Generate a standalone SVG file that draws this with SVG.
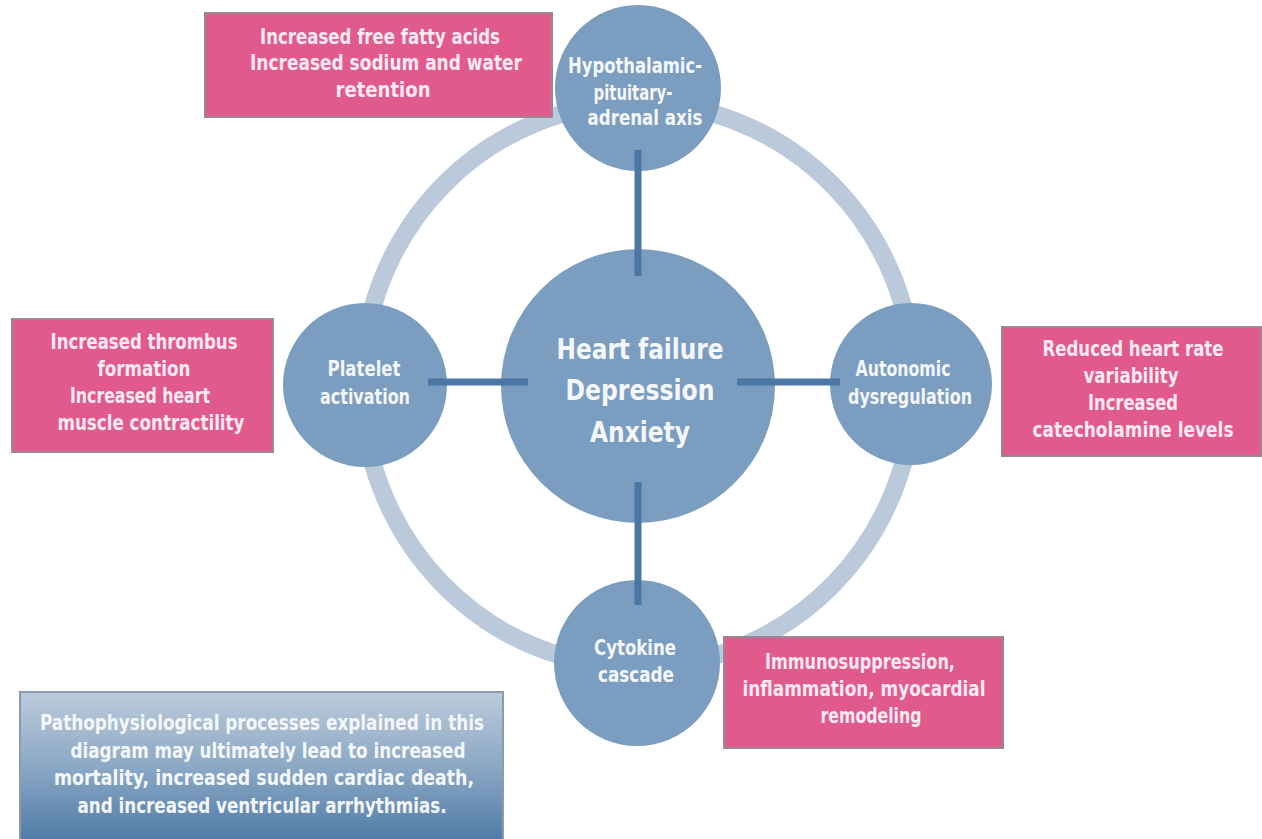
<svg xmlns="http://www.w3.org/2000/svg" width="1262" height="839" viewBox="0 0 1262 839">
<defs>
<linearGradient id="gradNote" x1="0" y1="0" x2="0" y2="1">
<stop offset="0" stop-color="#bccbdb"/>
<stop offset="0.5" stop-color="#8ba8c5"/>
<stop offset="1" stop-color="#4f7aa6"/>
</linearGradient>
<style>
.ring{fill:none;stroke:#bacadb;stroke-width:18}
.conn{stroke:#4a77a3;stroke-width:7;fill:none}
.pink{fill:#e05a8c;stroke:#9b8794;stroke-width:2}
.node{fill:#7b9dc0}
text{font-family:"Liberation Sans Narrow","DejaVu Sans Condensed","DejaVu Sans",sans-serif;font-weight:bold;text-anchor:middle}
.pt{fill:#fde9f1;font-size:21px}
.ct{fill:#f4f7fb;font-size:21px}
.big{fill:#f4f7fb;font-size:29px}
.nt{fill:#f4f7fb;font-size:21px}
</style>
</defs>
<rect width="1262" height="839" fill="#ffffff"/>
<ellipse class="ring" cx="638" cy="385" rx="276" ry="282"/>
<g id="box-hpa">
<rect class="pink" x="205" y="13" width="347" height="104"/>
<text class="pt" x="380" y="44" textLength="240" lengthAdjust="spacingAndGlyphs">Increased free fatty acids</text>
<text class="pt" x="386" y="70" textLength="272" lengthAdjust="spacingAndGlyphs">Increased sodium and water</text>
<text class="pt" x="383" y="97" textLength="95" lengthAdjust="spacingAndGlyphs">retention</text>
</g>
<g id="box-platelet">
<rect class="pink" x="12" y="319" width="261" height="133"/>
<text class="pt" x="144" y="349" textLength="187" lengthAdjust="spacingAndGlyphs">Increased thrombus</text>
<text class="pt" x="144" y="376" textLength="93" lengthAdjust="spacingAndGlyphs">formation</text>
<text class="pt" x="140" y="403" textLength="140" lengthAdjust="spacingAndGlyphs">Increased heart</text>
<text class="pt" x="151" y="430" textLength="187" lengthAdjust="spacingAndGlyphs">muscle contractility</text>
</g>
<g id="box-autonomic">
<rect class="pink" x="1002" y="327" width="259" height="129"/>
<text class="pt" x="1133" y="356" textLength="181" lengthAdjust="spacingAndGlyphs">Reduced heart rate</text>
<text class="pt" x="1131" y="383" textLength="95" lengthAdjust="spacingAndGlyphs">variability</text>
<text class="pt" x="1133" y="410" textLength="90" lengthAdjust="spacingAndGlyphs">Increased</text>
<text class="pt" x="1133" y="437" textLength="201" lengthAdjust="spacingAndGlyphs">catecholamine levels</text>
</g>
<g id="box-cytokine">
<rect class="pink" x="724" y="637" width="279" height="111"/>
<text class="pt" x="860" y="669" textLength="190" lengthAdjust="spacingAndGlyphs">Immunosuppression,</text>
<text class="pt" x="864" y="696" textLength="243" lengthAdjust="spacingAndGlyphs">inflammation, myocardial</text>
<text class="pt" x="871" y="723" textLength="101" lengthAdjust="spacingAndGlyphs">remodeling</text>
</g>
<g id="node-center">
<circle class="node" cx="638" cy="386" r="137"/>
<text class="big" x="640" y="359" textLength="167" lengthAdjust="spacingAndGlyphs">Heart failure</text>
<text class="big" x="640" y="400" textLength="149" lengthAdjust="spacingAndGlyphs">Depression</text>
<text class="big" x="640" y="442" textLength="100" lengthAdjust="spacingAndGlyphs">Anxiety</text>
</g>
<g id="node-hpa">
<circle class="node" cx="638" cy="88" r="83"/>
<text class="ct" x="635" y="73" textLength="134" lengthAdjust="spacingAndGlyphs">Hypothalamic-</text>
<text class="ct" x="633" y="100" textLength="79" lengthAdjust="spacingAndGlyphs">pituitary-</text>
<text class="ct" x="645" y="125" textLength="115" lengthAdjust="spacingAndGlyphs">adrenal axis</text>
</g>
<g id="node-platelet">
<circle class="node" cx="365" cy="385" r="82"/>
<text class="ct" x="364" y="376" textLength="73" lengthAdjust="spacingAndGlyphs">Platelet</text>
<text class="ct" x="365" y="404" textLength="90" lengthAdjust="spacingAndGlyphs">activation</text>
</g>
<g id="node-autonomic">
<circle class="node" cx="911" cy="384" r="81"/>
<text class="ct" x="903" y="376" textLength="95" lengthAdjust="spacingAndGlyphs">Autonomic</text>
<text class="ct" x="910" y="404" textLength="124" lengthAdjust="spacingAndGlyphs">dysregulation</text>
</g>
<g id="node-cytokine">
<circle class="node" cx="637" cy="663" r="83"/>
<text class="ct" x="635" y="655" textLength="82" lengthAdjust="spacingAndGlyphs">Cytokine</text>
<text class="ct" x="636" y="682" textLength="76" lengthAdjust="spacingAndGlyphs">cascade</text>
</g>
<g id="connectors">
<line class="conn" x1="638" y1="150" x2="638" y2="276"/>
<line class="conn" x1="428" y1="382" x2="528" y2="382"/>
<line class="conn" x1="737" y1="382" x2="840" y2="382"/>
<line class="conn" x1="638" y1="482" x2="638" y2="605"/>
</g>
<g id="note">
<rect x="20" y="692" width="483" height="150" fill="url(#gradNote)" stroke="#8a9bb0" stroke-width="2"/>
<text class="nt" x="262" y="730" textLength="444" lengthAdjust="spacingAndGlyphs">Pathophysiological processes explained in this</text>
<text class="nt" x="268" y="758" textLength="395" lengthAdjust="spacingAndGlyphs">diagram may ultimately lead to increased</text>
<text class="nt" x="264" y="785" textLength="420" lengthAdjust="spacingAndGlyphs">mortality, increased  sudden cardiac death,</text>
<text class="nt" x="262" y="813" textLength="369" lengthAdjust="spacingAndGlyphs">and increased ventricular arrhythmias.</text>
</g>
</svg>
